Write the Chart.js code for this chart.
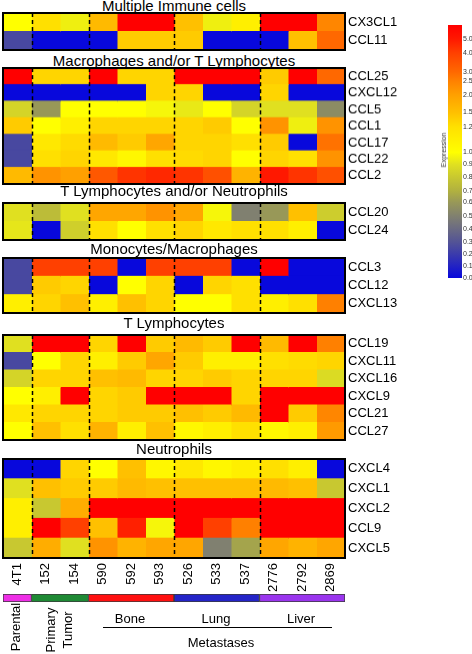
<!DOCTYPE html>
<html>
<head>
<meta charset="utf-8">
<script src="https://cdn.jsdelivr.net/npm/chart.js@4.4.0/dist/chart.umd.min.js"></script>
<style>
  body { margin: 0; background: #fff; font-family: 'Liberation Sans', Arial, sans-serif; }
  #page { position: relative; width: 472px; height: 654px; overflow: hidden; }
  canvas { position: absolute; }
  .title { position: absolute; left: 3px; width: 342px; text-align: center; font-size: 15px; line-height: 15px; color: #000; white-space: nowrap; }
  .lbl { position: absolute; font-size: 13px; line-height: 15px; color: #000; white-space: nowrap; transform: translate(-50%, -50%); text-align: center; }
  .rot { transform: translate(-50%, -50%) rotate(-90deg); }
</style>
</head>
<body>
<div id="page"></div>
<script>
// columns (samples)
const columns = ['4T1', '152', '154', '590', '592', '593', '526', '533', '537', '2776', '2792', '2869'];
const dividers = [1, 3, 6, 9];

// panel 1
const immuneRows = ['CX3CL1', 'CCL11'];
const immuneVals = [
  [1.0, 1.2, 0.95, 1.6, 5.5, 5.5, 1.5, 0.95, 1.1, 5.5, 5.5, 2.4],
  [0.25, 0, 0, 0, 1.4, 1.4, 1.4, 0, 0, 0, 1.5, 3.0]
];

// panel 2
const macroRows = ['CCL25', 'CXCL12', 'CCL5', 'CCL1', 'CCL17', 'CCL22', 'CCL2'];
const macroVals = [
  [5.5, 1.3, 1.3, 5.5, 1.3, 1.3, 5.5, 5.5, 5.5, 1.4, 5.5, 3.0],
  [0, 0, 0, 0, 0, 1.3, 1.3, 0, 0, 1.3, 0, 0],
  [0.85, 0.6, 1.0, 1.0, 1.0, 0.97, 0.93, 1.0, 0.85, 0.9, 0.9, 0.55],
  [1.4, 1.0, 1.1, 1.3, 1.3, 1.3, 1.3, 1.4, 1.0, 2.2, 0.95, 2.2],
  [0.25, 1.15, 1.25, 1.6, 1.4, 1.9, 1.3, 1.3, 1.2, 1.4, 0, 2.8],
  [0.25, 1.2, 1.3, 1.15, 1.05, 1.2, 1.25, 1.3, 1.0, 1.3, 1.2, 2.2],
  [1.6, 2.2, 2.0, 3.4, 4.3, 4.6, 4.3, 3.6, 1.7, 5.0, 4.3, 3.6]
];

// panel 3
const tneutRows = ['CCL20', 'CCL24'];
const tneutVals = [
  [0.9, 0.75, 0.9, 1.9, 1.9, 2.2, 1.9, 0.97, 0.5, 0.6, 1.5, 0.82],
  [0.92, 0, 0.83, 1.2, 1.0, 1.2, 1.3, 1.15, 1.2, 1.2, 1.1, 0]
];

// panel 4
const monoRows = ['CCL3', 'CCL12', 'CXCL13'];
const monoVals = [
  [0.25, 4.0, 4.0, 4.0, 0, 4.0, 4.0, 4.0, 0, 5.5, 0, 0],
  [0.25, 1.4, 1.3, 0, 1.0, 1.3, 0, 1.3, 1.2, 0, 0, 0],
  [1.1, 1.3, 1.5, 1.1, 1.5, 1.3, 1.0, 1.0, 1.2, 1.1, 1.2, 2.5]
];

// panel 5
const tlymRows = ['CCL19', 'CXCL11', 'CXCL16', 'CXCL9', 'CCL21', 'CCL27'];
const tlymVals = [
  [0.9, 5.5, 5.5, 1.3, 5.5, 1.4, 1.6, 1.4, 5.5, 1.6, 5.5, 2.5],
  [0.25, 1.0, 1.3, 1.1, 1.4, 1.9, 1.4, 1.1, 1.1, 1.2, 1.25, 1.3],
  [0.85, 1.3, 1.3, 1.5, 1.6, 1.3, 1.3, 1.4, 1.3, 1.3, 1.3, 0.88],
  [1.0, 1.1, 5.5, 1.3, 1.4, 5.5, 5.5, 5.5, 1.3, 5.5, 5.5, 5.5],
  [1.15, 1.3, 1.3, 1.3, 1.4, 1.4, 1.5, 1.4, 1.6, 5.5, 1.4, 2.4],
  [1.0, 1.5, 1.2, 1.7, 1.1, 1.5, 1.05, 1.1, 1.2, 1.05, 1.1, 2.1]
];

// panel 6
const neutRows = ['CXCL4', 'CXCL1', 'CXCL2', 'CCL9', 'CXCL5'];
const neutVals = [
  [0, 0, 1.3, 1.0, 1.5, 1.05, 1.15, 1.05, 1.1, 1.2, 1.1, 0],
  [0.9, 1.5, 1.4, 1.4, 1.6, 1.5, 1.5, 1.5, 1.5, 1.6, 1.5, 0.8],
  [1.1, 0.8, 1.8, 5.5, 5.5, 5.5, 5.5, 5.5, 5.5, 5.5, 5.5, 5.5],
  [1.1, 5.5, 4.0, 1.5, 4.8, 0.97, 5.5, 4.0, 2.5, 5.5, 5.5, 5.5],
  [0.8, 1.8, 0.9, 2.2, 1.7, 1.9, 1.9, 0.5, 0.65, 1.9, 1.7, 1.9]
];

// sample groups under the heatmap
const groupSpans = [[0, 1], [1, 3], [3, 6], [6, 9], [9, 12]];
const groupColors = ['#ee2ee6', '#1f8a35', '#ff1010', '#2424c8', '#9a35ee'];

// colour bar ticks, and where each sits along the bar (0 bottom, 1 top)
const cbTickValues = [0, 0.1, 0.2, 0.3, 0.4, 0.5, 0.6, 0.7, 0.8, 0.9, 1.0, 1.2, 1.5, 2.0, 2.5, 3.0, 4.0, 5.0];
const cbTickPos = [0.0, 0.047, 0.094, 0.142, 0.193, 0.244, 0.299, 0.343, 0.398, 0.449, 0.496, 0.598, 0.654, 0.724, 0.780, 0.815, 0.890, 0.945];

// colour map
const cmap = [
  [0.0, [8, 8, 220]],
  [0.25, [72, 72, 160]],
  [0.5, [128, 128, 112]],
  [0.7, [176, 176, 64]],
  [0.9, [224, 224, 32]],
  [1.0, [255, 255, 0]],
  [1.2, [255, 224, 0]],
  [1.5, [255, 192, 0]],
  [2.0, [255, 160, 0]],
  [2.5, [255, 128, 0]],
  [3.0, [255, 104, 0]],
  [4.0, [255, 64, 0]],
  [5.0, [255, 24, 0]],
  [5.5, [255, 0, 0]]
];

function colorFor(v) {
  if (v <= cmap[0][0]) return rgb(cmap[0][1]);
  for (let i = 1; i < cmap.length; i++) {
    if (v <= cmap[i][0]) {
      const [v0, c0] = cmap[i - 1];
      const [v1, c1] = cmap[i];
      const t = (v - v0) / (v1 - v0);
      return rgb(c0.map((c, k) => c + (c1[k] - c) * t));
    }
  }
  return rgb(cmap[cmap.length - 1][1]);
}
function rgb(c) {
  return 'rgb(' + c.map(x => Math.round(x)).join(',') + ')';
}

Chart.defaults.font.family = "'Liberation Sans', Arial, sans-serif";
Chart.defaults.color = '#000';

const page = document.getElementById('page');

function addCanvas(left, top, w, h) {
  const c = document.createElement('canvas');
  c.width = w; c.height = h;
  c.style.left = left + 'px'; c.style.top = top + 'px';
  c.style.width = w + 'px'; c.style.height = h + 'px';
  page.appendChild(c);
  return c;
}

function addText(cls, text, x, y, extra) {
  const d = document.createElement('div');
  d.className = cls;
  d.innerHTML = text;
  d.style.left = x + 'px';
  d.style.top = y + 'px';
  if (extra) Object.assign(d.style, extra);
  page.appendChild(d);
  return d;
}

// stop axes from asking for extra room for their edge labels
function noEdgePad(ax) {
  ax.paddingTop = 0; ax.paddingBottom = 0;
  ax.paddingLeft = 0; ax.paddingRight = 0;
}

// box + dashed group dividers
const frame = {
  id: 'frame',
  afterDatasetsDraw(chart) {
    const { ctx, chartArea: a, scales: { x } } = chart;
    ctx.save();
    ctx.strokeStyle = '#000';
    ctx.lineWidth = 1.5;
    ctx.setLineDash([4, 3]);
    dividers.forEach(d => {
      const px = Math.round(x.getPixelForValue(d)) + 0.5;
      ctx.beginPath();
      ctx.moveTo(px, a.top);
      ctx.lineTo(px, a.bottom);
      ctx.stroke();
    });
    ctx.setLineDash([]);
    ctx.lineWidth = 2;
    ctx.strokeRect(a.left, a.top, a.right - a.left, a.bottom - a.top);
    ctx.restore();
  }
};

function makePanel(title, titleBase, rows, vals, boxTop, boxH, showX) {
  addText('title', title, 3, titleBase - 12.7);
  const axisH = showX ? 40 : 0;
  const cv = addCanvas(0, boxTop - 1, 400, boxH + 2 + axisH);
  new Chart(cv, {
    type: 'bar',
    data: {
      labels: rows,
      datasets: columns.map((col, ci) => ({
        label: col,
        data: rows.map(() => [ci, ci + 1]),
        backgroundColor: vals.map(r => colorFor(r[ci])),
        borderWidth: 0,
        inflateAmount: 0.5
      }))
    },
    options: {
      indexAxis: 'y',
      responsive: false,
      animation: false,
      devicePixelRatio: 1,
      layout: { padding: { left: 3, right: 0, top: 1, bottom: showX ? 0 : 1 } },
      datasets: { bar: { grouped: false, barPercentage: 1, categoryPercentage: 1 } },
      plugins: { legend: { display: false }, tooltip: { enabled: false } },
      scales: {
        x: {
          type: 'linear', min: 0, max: 12, display: showX,
          grid: { display: false, drawTicks: false },
          border: { display: false },
          afterBuildTicks: ax => { ax.ticks = columns.map((c, i) => ({ value: i + 0.5 })); },
          afterFit: ax => { ax.height = axisH; noEdgePad(ax); },
          ticks: {
            autoSkip: false, minRotation: 90, maxRotation: 90, padding: 5,
            font: { size: 13 }, color: '#000',
            callback: (v, i) => columns[i]
          }
        },
        y: {
          position: 'right',
          grid: { display: false, drawTicks: false },
          border: { display: false },
          afterFit: ax => { ax.width = 55; noEdgePad(ax); },
          ticks: { font: { size: 13 }, color: '#000', padding: 3, autoSkip: false }
        }
      }
    },
    plugins: [frame]
  });
}

makePanel('Multiple Immune cells', 10.7, immuneRows, immuneVals, 13, 37, false);
makePanel('Macrophages and/or T Lymphocytes', 65.5, macroRows, macroVals, 68, 115.5, false);
makePanel('T Lymphocytes and/or Neutrophils', 195.7, tneutRows, tneutVals, 203, 37, false);
makePanel('Monocytes/Macrophages', 254, monoRows, monoVals, 258, 55, false);
makePanel('T Lymphocytes', 327.4, tlymRows, tlymVals, 335, 105, false);
makePanel('Neutrophils', 454, neutRows, neutVals, 459, 98, true);

// group colour strip
const gcv = addCanvas(0, 590, 400, 16);
new Chart(gcv, {
  type: 'bar',
  data: {
    labels: ['group'],
    datasets: groupSpans.map((s, i) => ({
      data: [s],
      backgroundColor: groupColors[i],
      borderColor: '#3a3a3a',
      borderWidth: 1,
      borderSkipped: false
    }))
  },
  options: {
    indexAxis: 'y',
    responsive: false,
    animation: false,
    devicePixelRatio: 1,
    layout: { padding: { left: 3, right: 55, top: 4, bottom: 4 } },
    datasets: { bar: { grouped: false, barPercentage: 1, categoryPercentage: 1 } },
    plugins: { legend: { display: false }, tooltip: { enabled: false } },
    scales: {
      x: { type: 'linear', min: 0, max: 12, display: false },
      y: { display: false }
    }
  }
});

// group labels
addText('lbl rot', 'Parental', 15, 627);
addText('lbl rot', 'Primary<br>Tumor', 59, 630, { lineHeight: '17px' });
addText('lbl', 'Bone', 130, 618);
addText('lbl', 'Lung', 216, 618);
addText('lbl', 'Liver', 301, 618);
addText('lbl', 'Metastases', 221, 642);
const rule = document.createElement('div');
Object.assign(rule.style, { position: 'absolute', left: '103px', top: '627px', width: '229px', height: '0', borderTop: '1.5px solid #000' });
page.appendChild(rule);

// colour bar
const cbcv = addCanvas(440, 20, 32, 265);
new Chart(cbcv, {
  type: 'bar',
  data: {
    labels: ['scale'],
    datasets: [{
      data: [[0, 1]],
      borderWidth: 0,
      backgroundColor: ctx => {
        const a = ctx.chart.chartArea;
        if (!a) return '#ff0';
        const g = ctx.chart.ctx.createLinearGradient(0, a.bottom, 0, a.top);
        cbTickValues.forEach((v, i) => g.addColorStop(cbTickPos[i], colorFor(v)));
        g.addColorStop(1, colorFor(5.5));
        return g;
      }
    }]
  },
  options: {
    responsive: false,
    animation: false,
    devicePixelRatio: 1,
    layout: { padding: { left: 8, right: 0, top: 5, bottom: 7 } },
    datasets: { bar: { barPercentage: 1, categoryPercentage: 1 } },
    plugins: { legend: { display: false }, tooltip: { enabled: false } },
    scales: {
      x: { display: false },
      y: {
        type: 'linear', min: 0, max: 1, position: 'right',
        grid: { display: false, drawTicks: false },
        border: { display: false },
        afterBuildTicks: ax => { ax.ticks = cbTickPos.map(p => ({ value: p })); },
        afterFit: ax => { ax.width = 10; noEdgePad(ax); },
        ticks: {
          autoSkip: false, padding: 1, font: { size: 7 }, color: '#333',
          callback: (v, i) => cbTickValues[i].toFixed(1)
        }
      }
    }
  }
});
addText('lbl rot', 'Expression', 444, 150, { fontSize: '7px', lineHeight: '8px', color: '#333' });
</script>
</body>
</html>
